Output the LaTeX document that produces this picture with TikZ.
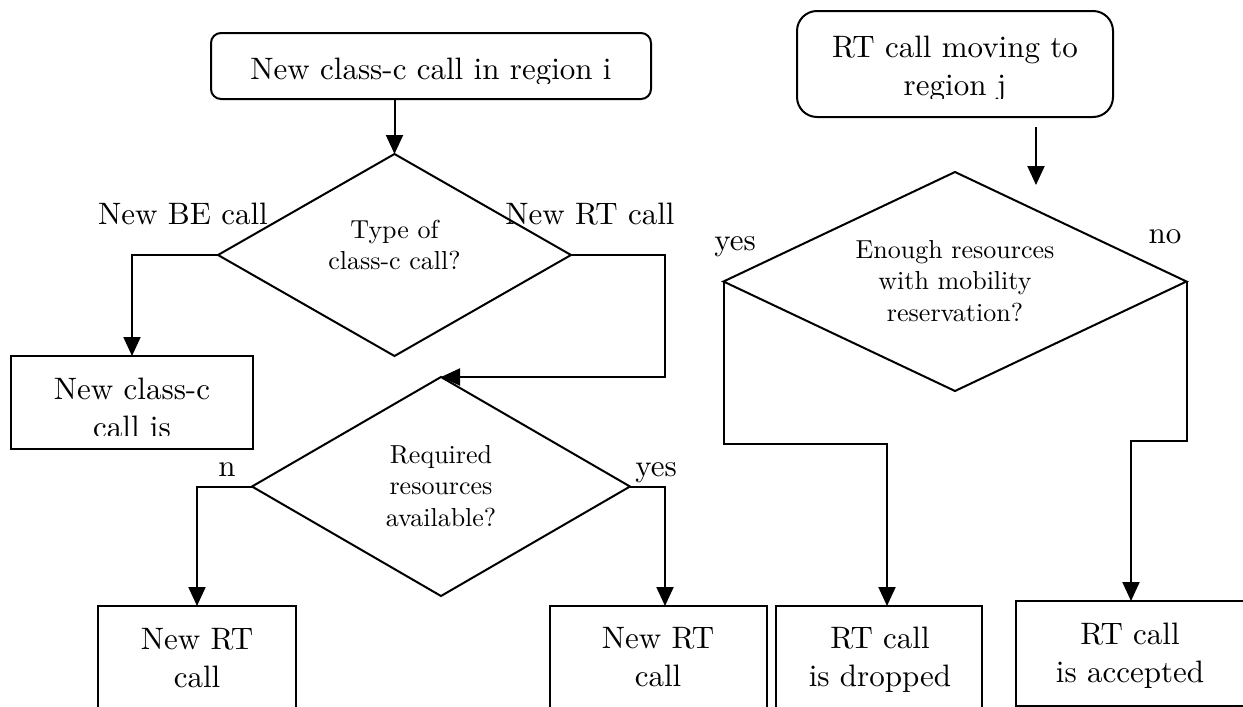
\documentclass[tikz,border=0pt]{standalone}
\usepackage{fontspec}
\setmainfont{lmroman10-regular.otf}
\usetikzlibrary{shapes.geometric,arrows.meta}
\newcommand\mlines[1]{\begin{tabular}[t]{@{}c@{}}#1\end{tabular}}
\begin{document}
\begin{tikzpicture}[x=1pt,y=-1pt,line width=2pt,
  box/.style={draw,rectangle,inner sep=0pt,outer sep=0pt},
  rbox/.style={box,rounded corners=#1},
  decision/.style={draw,diamond,inner sep=0pt,outer sep=0pt},
  txt/.style={anchor=base,inner sep=0pt,font=\fontsize{31}{38}\selectfont},
  dtxt/.style={anchor=base,inner sep=0pt,font=\fontsize{26}{31.5}\selectfont},
  arr/.style={-{Triangle[length=19pt,width=17pt]}}]
\useasboundingbox[fill=white] (0,0) rectangle (1243,707);
\clip (0,0) rectangle (1243,707);

% shapes
\node[rbox=10pt,minimum width=440pt,minimum height=66pt] (start1) at (431,66) {};
\node[rbox=20pt,minimum width=316pt,minimum height=106pt] (start2) at (955,64) {};
\node[decision,minimum width=353pt,minimum height=202pt] (d1) at (394.5,255) {};
\node[decision,minimum width=378pt,minimum height=219pt] (d2) at (441,486.5) {};
\node[decision,minimum width=463pt,minimum height=219pt] (d3) at (955,281.5) {};
\node[box,minimum width=242pt,minimum height=93pt] (be) at (132,402.5) {};
\node[box,minimum width=198pt,minimum height=140pt] (nrt1) at (197,676) {};
\node[box,minimum width=217pt,minimum height=140pt] (nrt2) at (658.5,676) {};
\node[box,minimum width=206pt,minimum height=140pt] (drop) at (879,676) {};
\node[box,minimum width=260pt,minimum height=105pt] (acc) at (1146,653.5) {};

% texts
\begin{scope}
  \clip (211,33) rectangle (651,83);
  \node[txt] (t1) at (431,79) {New class-c call in region i};
\end{scope}
\begin{scope}
  \clip (797,11) rectangle (1113,98);
  \node[txt] (t2) at (955,57) {\mlines{RT call moving to\\region j}};
\end{scope}
\begin{scope}
  \clip (11,356) rectangle (253,435);
  \node[txt] (t5) at (132,399) {\mlines{New class-c\\call is}};
\end{scope}
\node[dtxt] (t3) at (394.5,238) {\mlines{Type of\\class-c call?}};
\node[dtxt] (t4) at (441,463) {\mlines{Required\\resources\\available?}};
\node[dtxt] (t6) at (955,258) {\mlines{Enough resources\\with mobility\\reservation?}};
\node[txt] (t7) at (197,649) {\mlines{New RT\\call}};
\node[txt] (t8) at (658,648) {\mlines{New RT\\call}};
\node[txt] (t9) at (880,648) {\mlines{RT call\\is dropped}};
\node[txt] (t10) at (1130,644) {\mlines{RT call\\is accepted}};

% labels
\node[txt] (l1) at (183,224) {New BE call};
\node[txt] (l2) at (590,224) {New RT call};
\node[txt] (l3) at (735,250) {yes};
\node[txt] (l4) at (1165,243) {no};
\node[txt] (l5) at (227,476) {n};
\node[txt] (l6) at (656,476) {yes};

% connectors
\draw[arr] (d1.north |- start1.south) -- (d1.north);
\draw[arr] (d1.west) -| (be.north);
\coordinate (k1) at (665,255);
\draw[arr] (d1.east) -- (k1) |- (d2.north);
\draw[arr] (d2.west) -| (nrt1.north);
\coordinate (k2) at (665,606);
\draw[arr] (d2.east) -| (k2);
\coordinate (a1) at (1036,127);
\coordinate (a2) at (1036,185);
\draw[arr] (a1) -- (a2);
\coordinate (k3) at (887,444);
\draw[arr] (d3.west) |- (k3) -- (k3 |- drop.north);
\coordinate (k4) at (1131,441);
\draw[arr] (d3.east) |- (k4) -- (k4 |- acc.north);
\end{tikzpicture}
\end{document}
